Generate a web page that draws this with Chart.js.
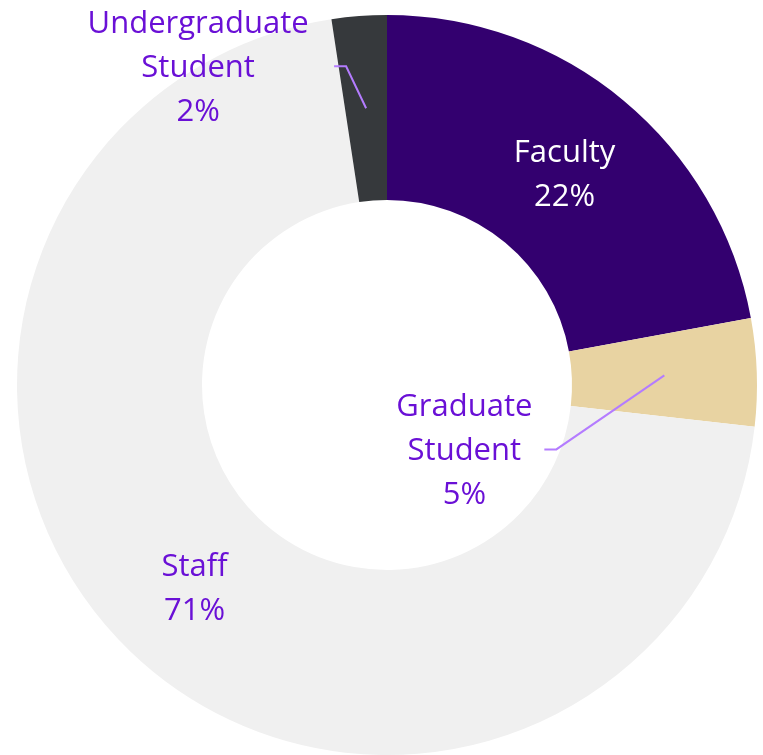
<!DOCTYPE html>
<html>
<head>
<meta charset="utf-8">
<script src="https://cdn.jsdelivr.net/npm/chart.js@4"></script>
<style>
  html, body { margin: 0; padding: 0; background: #fff; }
  #wrap { width: 763px; height: 755px; }
</style>
</head>
<body>
<div id="wrap"><canvas id="myChart" width="763" height="755"></canvas></div>
<script>
// data
const categories = ['Faculty', 'Graduate Student', 'Staff', 'Undergraduate Student'];
const shares = [22.1, 4.7, 70.8, 2.4];
const labelLines = [['Faculty'], ['Graduate', 'Student'], ['Staff'], ['Undergraduate', 'Student']];
const sliceColors = ['#33006F', '#E8D3A2', '#F0F0F0', '#36393C'];

// label placement relative to slice centroid (0 = inside slice)
const labelShift = [
  { dx: 0, dy: 3, color: '#FFFFFF' },
  { dx: -200, dy: 76, color: '#6A10D6', lead: 80 },
  { dx: 0, dy: 4, color: '#6A10D6' },
  { dx: -168, dy: -40, color: '#6A10D6', lead: 136 }
];

const sliceLabels = {
  id: 'sliceLabels',
  afterDatasetsDraw(chart) {
    const ctx = chart.ctx;
    const arcs = chart.getDatasetMeta(0).data;
    const lineH = 44;
    ctx.save();
    ctx.font = '31px "Open Sans", Lato, sans-serif';
    ctx.textAlign = 'center';
    ctx.textBaseline = 'middle';
    arcs.forEach((arc, i) => {
      const c = arc.tooltipPosition();
      const s = labelShift[i];
      const lx = c.x + s.dx, ly = c.y + s.dy;
      const lines = labelLines[i].concat([Math.round(shares[i]) + '%']);
      const top = ly - (lines.length - 1) * lineH / 2;
      if (s.lead) {
        const midY = top + lineH * (labelLines[i].length - 1) - 2;
        const sx = lx + s.lead;
        ctx.strokeStyle = '#B47CFF';
        ctx.lineWidth = 2;
        ctx.beginPath();
        ctx.moveTo(sx, midY);
        ctx.lineTo(sx + 12, midY);
        ctx.lineTo(c.x, c.y);
        ctx.stroke();
      }
      ctx.fillStyle = s.color;
      lines.forEach((t, k) => ctx.fillText(t, lx, top + k * lineH));
    });
    ctx.restore();
  }
};

new Chart(document.getElementById('myChart'), {
  type: 'doughnut',
  data: {
    labels: categories,
    datasets: [{
      data: shares,
      backgroundColor: sliceColors,
      borderWidth: 0
    }]
  },
  options: {
    responsive: false,
    animation: false,
    cutout: '50%',
    layout: { padding: { left: 17, right: 6, top: 15, bottom: 0 } },
    plugins: {
      legend: { display: false },
      tooltip: { enabled: false }
    }
  },
  plugins: [sliceLabels]
});
</script>
</body>
</html>
